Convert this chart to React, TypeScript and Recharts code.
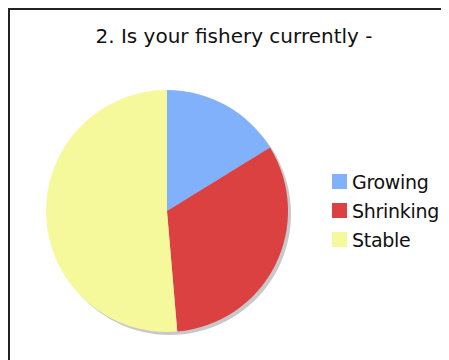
import { PieChart, Pie, Cell, Legend } from "recharts";

const categories = ["Growing", "Shrinking", "Stable"];
const responses = [6, 12, 19];
const colors = ["#82b1fc", "#dc4141", "#f6f89c"];

const data = categories.map((name, i) => ({ name, value: responses[i], color: colors[i] }));

const FONT = "Verdana, 'DejaVu Sans', sans-serif";

const LegendBox = () => (
  <div
    style={{
      fontFamily: FONT,
      fontSize: 19,
      letterSpacing: -0.3,
      color: "#111",
      whiteSpace: "nowrap",
    }}
  >
    {data.map((d) => (
      <div key={d.name} style={{ display: "flex", alignItems: "center", height: 29 }}>
        <div style={{ width: 15, height: 15, background: d.color, marginRight: 5 }} />
        <span>{d.name}</span>
      </div>
    ))}
  </div>
);

export default function App() {
  return (
    <div
      style={{
        position: "relative",
        width: 439,
        height: 350,
        borderLeft: "2px solid #222",
        borderTop: "2px solid #222",
        background: "#fff",
      }}
    >
      <style>{`
        html, body { overflow: hidden; }
        .recharts-pie { filter: drop-shadow(3px 3px 0 #c8c8c8); }
      `}</style>
      <div
        style={{
          position: "absolute",
          left: 0,
          top: 14,
          width: 448,
          textAlign: "center",
          fontFamily: FONT,
          fontSize: 20,
          color: "#111",
        }}
      >
        2. Is your fishery currently -
      </div>
      <PieChart width={439} height={350} margin={{ top: 0, right: 0, bottom: 0, left: 0 }}>
        <Pie
          data={data}
          dataKey="value"
          nameKey="name"
          cx={157}
          cy={201}
          outerRadius={121}
          startAngle={90}
          endAngle={-270}
          stroke="none"
          isAnimationActive={false}
        >
          {data.map((d) => (
            <Cell key={d.name} fill={d.color} />
          ))}
        </Pie>
        <Legend
          content={<LegendBox />}
          layout="vertical"
          wrapperStyle={{ position: "absolute", left: 322, top: 157, width: 112 }}
        />
      </PieChart>
    </div>
  );
}
